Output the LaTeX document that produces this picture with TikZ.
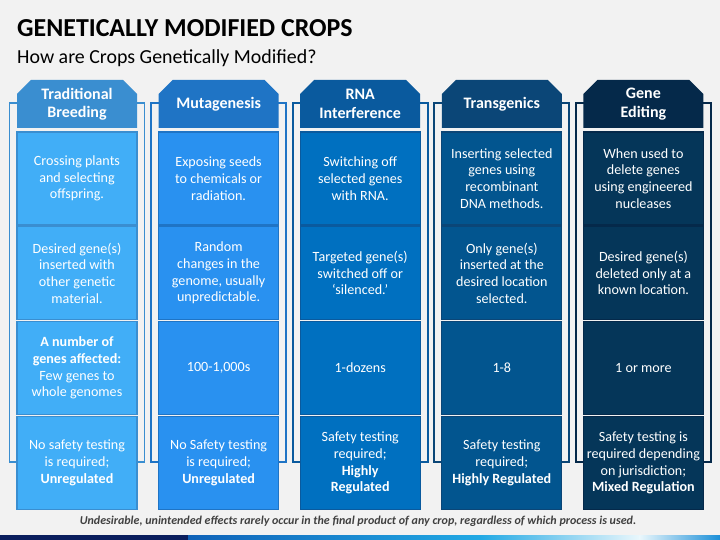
\documentclass[tikz,border=0pt]{standalone}
\usepackage{fontspec}
\setmainfont{Carlito}
\usetikzlibrary{shapes.misc}
\definecolor{bg}{HTML}{F2F2F2}
\definecolor{hdA}{HTML}{3A8ED0}
\definecolor{bxA}{HTML}{41AEF7}
\definecolor{hdB}{HTML}{1F74C5}
\definecolor{bxB}{HTML}{2991F0}
\definecolor{hdC}{HTML}{0A5A9E}
\definecolor{bxC}{HTML}{0070C0}
\definecolor{hdD}{HTML}{0B4677}
\definecolor{bxD}{HTML}{02558F}
\definecolor{hdE}{HTML}{05294A}
\definecolor{bxE}{HTML}{053659}
\definecolor{navybar}{HTML}{0B1F5E}
\definecolor{barA}{HTML}{0F62B8}
\definecolor{barB}{HTML}{22A9E4}
\definecolor{barC}{HTML}{EAF7FC}
\definecolor{barD}{HTML}{1B8FD8}
\definecolor{note}{HTML}{404040}
\begin{document}
\begin{tikzpicture}[x=1pt, y=-1pt,
    frame/.style={draw=#1, line width=1.8pt},
    hd/.style={chamfered rectangle, chamfered rectangle corners={north west,north east},
        chamfered rectangle xsep=7pt, chamfered rectangle ysep=7pt, fill=#1,
        minimum width=120pt, minimum height=48pt, inner sep=0pt, text=white,
        align=center, font=\fontsize{16}{18.5}\selectfont\bfseries},
    bx/.style={fill=#1, line width=1.1pt, minimum width=120pt, minimum height=93pt,
        inner sep=0pt, text=white, align=center, font=\fontsize{14.1}{16.7}\selectfont}]
    \fill[bg] (0,0) rectangle (720,540);
    \useasboundingbox (0,0) rectangle (720,540);
    \node [anchor=west, inner sep=0pt, font=\fontsize{25.9}{30}\selectfont\bfseries] (title) at (17,28) {GENETICALLY MODIFIED CROPS};
    \node [anchor=west, inner sep=0pt, font=\fontsize{19.9}{23}\selectfont] (sub) at (17,58) {How are Crops Genetically Modified?};
    \draw [frame=hdA] (9.5,103) rectangle (144.5,462);
    \draw [frame=hdB] (151.1,103) rectangle (286.1,462);
    \draw [frame=hdC] (292.7,103) rectangle (427.7,462);
    \draw [frame=hdD] (434.3,103) rectangle (569.3,462);
    \draw [frame=hdE] (575.9,103) rectangle (710.9,462);
    % Traditional Breeding
    \node [hd=hdA] (t1) at (77,104) {Traditional\\Breeding};
    \node [bx=bxA, draw=hdA] (t1a) at (77,178.5) {Crossing plants\\and selecting\\offspring.};
    \node [bx=bxA, draw=hdA] (t1b) at (77,273) {Desired gene(s)\\inserted with\\other genetic\\material.};
    \node [bx=bxA, draw=hdA] (t1c) at (77,368) {\textbf{A number of}\\\textbf{genes affected:}\\Few genes to\\whole genomes};
    \node [bx=bxA, draw=hdA] (t1d) at (77,463) {No safety testing\\is required;\\\textbf{Unregulated}};
    % Mutagenesis
    \node [hd=hdB] (t2) at (218.6,104) {Mutagenesis};
    \node [bx=bxB, draw=hdB] (t2a) at (218.6,178.5) {Exposing seeds\\to chemicals or\\radiation.};
    \node [bx=bxB, draw=hdB] (t2b) at (218.6,273) {Random\\changes in the\\genome, usually\\unpredictable.};
    \node [bx=bxB, draw=hdB] (t2c) at (218.6,368) {100-1,000s};
    \node [bx=bxB, draw=hdB] (t2d) at (218.6,463) {No Safety testing\\is required;\\\textbf{Unregulated}};
    % RNA Interference
    \node [hd=hdC] (t3) at (360.2,104) {RNA\\Interference};
    \node [bx=bxC, draw=hdC] (t3a) at (360.2,178.5) {Switching off\\selected genes\\with RNA.};
    \node [bx=bxC, draw=hdC] (t3b) at (360.2,273) {Targeted gene(s)\\switched off or\\‘silenced.’};
    \node [bx=bxC, draw=hdC] (t3c) at (360.2,368) {1-dozens};
    \node [bx=bxC, draw=hdC] (t3d) at (360.2,463) {Safety testing\\required;\\\textbf{Highly}\\\textbf{Regulated}};
    % Transgenics
    \node [hd=hdD] (t4) at (501.8,104) {Transgenics};
    \node [bx=bxD, draw=hdD] (t4a) at (501.8,178.5) {Inserting selected\\genes using\\recombinant\\DNA methods.};
    \node [bx=bxD, draw=hdD] (t4b) at (501.8,273) {Only gene(s)\\inserted at the\\desired location\\selected.};
    \node [bx=bxD, draw=hdD] (t4c) at (501.8,368) {1-8};
    \node [bx=bxD, draw=hdD] (t4d) at (501.8,463) {Safety testing\\required;\\\textbf{Highly Regulated}};
    % Gene Editing
    \node [hd=hdE] (t5) at (643.4,104) {Gene\\Editing};
    \node [bx=bxE, draw=hdE] (t5a) at (643.4,178.5) {When used to\\delete genes\\using engineered\\nucleases};
    \node [bx=bxE, draw=hdE] (t5b) at (643.4,273) {Desired gene(s)\\deleted only at a\\known location.};
    \node [bx=bxE, draw=hdE] (t5c) at (643.4,368) {1 or more};
    \node [bx=bxE, draw=hdE] (t5d) at (643.4,463) {Safety testing is\\required depending\\on jurisdiction;\\\textbf{Mixed Regulation}};
    \node [inner sep=0pt, text=note, font=\fontsize{12}{14}\selectfont\bfseries\itshape] (foot) at (358,521) {Undesirable, unintended effects rarely occur in the final product of any crop, regardless of which process is used.};
    \fill [navybar] (0,535) rectangle (188,540);
    \shade [left color=barA, right color=barB] (188,535) rectangle (480,540);
    \shade [left color=barB, right color=barC] (479.5,535) rectangle (640,540);
    \shade [left color=barC, right color=barD] (639.5,535) rectangle (720,540);
\end{tikzpicture}
\end{document}
